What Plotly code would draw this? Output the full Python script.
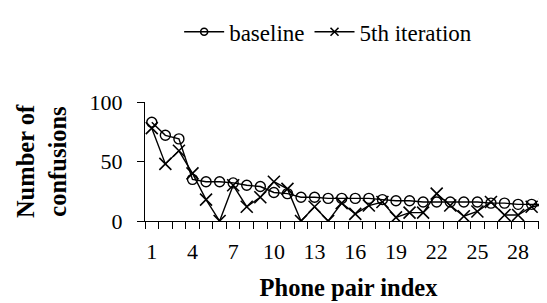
import plotly.graph_objects as go

pair_index = list(range(1, 31))
baseline = [83, 72, 69, 35, 33, 33, 32, 30, 29, 24, 23, 20, 20, 19, 19,
            19, 19, 18, 17, 17, 16, 16, 16, 16, 16, 15, 15, 14, 14, 14]
iteration5 = [78, 48, 59, 40, 18, 0, 30, 12, 20, 33, 27, 0, 12, 0, 15,
              6, 13, 16, 3, 7, 7, 23, 13, 4, 8, 16, 5, 5, 12, 14]
x_tick_vals = list(range(1, 31, 3))
x_tick_text = [str(v) for v in x_tick_vals]
y_tick_vals = [0, 50, 100]

FONT = "Liberation Serif, Times New Roman, serif"

fig = go.Figure()
# plotted series (legend entries drawn by the small-marker twins below)
fig.add_trace(go.Scatter(
    x=pair_index, y=baseline, name="baseline", mode="lines+markers",
    showlegend=False, legendgroup="b",
    line=dict(color="black", width=1.4),
    marker=dict(symbol="circle-open", size=10, color="black",
                line=dict(color="black", width=1.4)),
))
fig.add_trace(go.Scatter(
    x=pair_index, y=iteration5, name="5th iteration", mode="lines+markers",
    showlegend=False, legendgroup="i",
    line=dict(color="black", width=1.4),
    marker=dict(symbol="x-thin-open", size=12, color="black",
                line=dict(color="black", width=1.6)),
))
fig.add_trace(go.Scatter(
    x=[None], y=[None], name="baseline", mode="lines+markers", legendgroup="b",
    line=dict(color="black", width=1.4),
    marker=dict(symbol="circle-open", size=7, color="black",
                line=dict(color="black", width=1.6)),
))
fig.add_trace(go.Scatter(
    x=[None], y=[None], name="5th iteration", mode="lines+markers", legendgroup="i",
    line=dict(color="black", width=1.4),
    marker=dict(symbol="x-thin-open", size=8, color="black",
                line=dict(color="black", width=1.6)),
))

fig.update_layout(
    width=547, height=303,
    margin=dict(l=137, r=3, t=89, b=90),
    paper_bgcolor="white", plot_bgcolor="white",
    font=dict(family=FONT, size=22, color="black"),
    showlegend=True,
    legend=dict(orientation="h", x=0.45, xanchor="center", y=1.59, yanchor="middle",
                font=dict(family=FONT, size=23, color="black"),
                bgcolor="rgba(0,0,0,0)", itemwidth=40, tracegroupgap=0),
    xaxis=dict(
        range=[0.5, 30.5], tickmode="array", tickvals=x_tick_vals, ticktext=x_tick_text,
        ticks="", showgrid=False, zeroline=False,
        showline=True, linecolor="black", linewidth=1,
        ticklabelstandoff=11, tickfont=dict(family=FONT, size=22),
        minor=dict(ticks="outside", tick0=0.5, dtick=1, ticklen=7,
                   tickcolor="black", tickwidth=1, showgrid=False),
        title=dict(text="<b>Phone pair index</b>", font=dict(family=FONT, size=24.5), standoff=15),
        fixedrange=True,
    ),
    yaxis=dict(
        range=[0, 100], tickmode="array", tickvals=y_tick_vals,
        ticks="outside", ticklen=7, tickcolor="black", tickwidth=1,
        showgrid=False, zeroline=False,
        showline=True, linecolor="black", linewidth=1,
        ticklabelstandoff=10, tickfont=dict(family=FONT, size=22),
        title=dict(text="<b>Number of<br>confusions</b>", font=dict(family=FONT, size=24.5), standoff=16),
    ),
)

fig.write_html("out.html")
